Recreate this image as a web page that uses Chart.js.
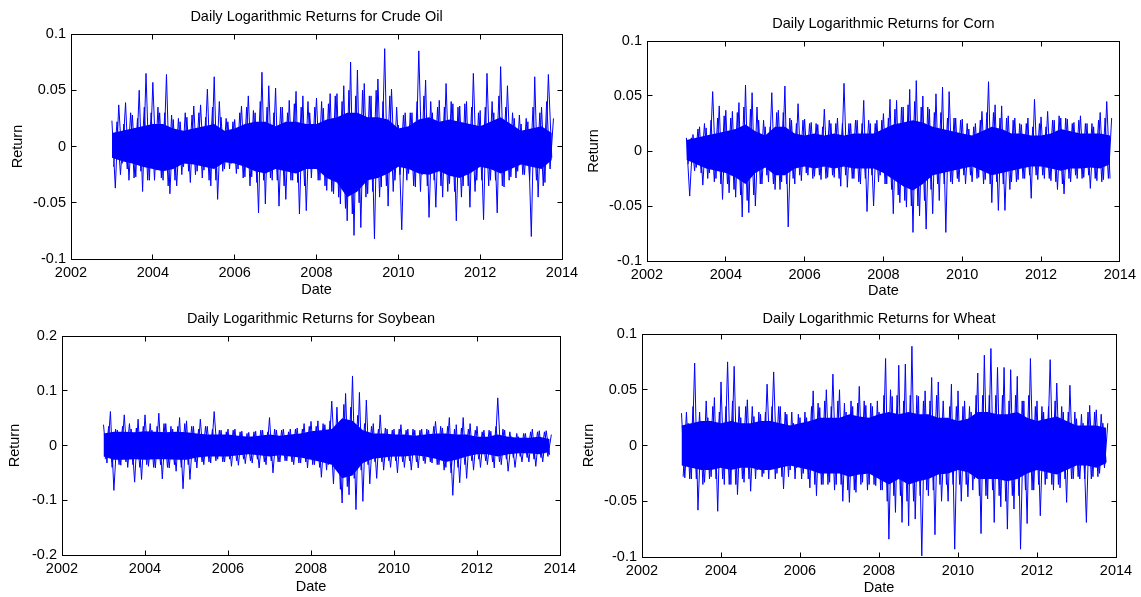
<!DOCTYPE html>
<html>
<head>
<meta charset="utf-8">
<title>Daily Logarithmic Returns</title>
<script src="https://cdn.jsdelivr.net/npm/chart.js@4.4.1/dist/chart.umd.min.js"></script>
<style>
  html, body { margin: 0; padding: 0; background: #fff; }
  #wrap { position: relative; width: 1141px; height: 597px; }
  #wrap canvas { position: absolute; left: 0; top: 0; }
</style>
</head>
<body>
<div id="wrap">
  <canvas id="oil" width="1141" height="597"></canvas>
  <canvas id="corn" width="1141" height="597"></canvas>
  <canvas id="soy" width="1141" height="597"></canvas>
  <canvas id="wheat" width="1141" height="597"></canvas>
</div>
<script>
Chart.defaults.font.family = '"Liberation Sans", Arial, Helvetica, sans-serif';
Chart.defaults.font.size = 14.5;
Chart.defaults.color = "#000";

const BLUE = "#0000ff";
const START = 2003;          // first trading day in the sample
const MONTH = 1 / 12;        // spacing of the high/low readings
const QUARTER = 1 / 4;       // spacing of the dense-core readings

const yearTicks = [2002, 2004, 2006, 2008, 2010, 2012, 2014];
const returnTicks = [-0.1, -0.05, 0, 0.05, 0.1];
const soyReturnTicks = [-0.2, -0.1, 0, 0.1, 0.2];

// alternating monthly high / low returns (largest spikes)
const crudeOil = [
  0.023,-0.037, 0.037,-0.015, 0.039,-0.03, 0.028,-0.027, 0.05,-0.04,
  0.065,-0.03, 0.057,-0.021, 0.03,-0.03, 0.064,-0.042, 0.024,-0.035,
  0.022,-0.018, 0.026,-0.032, 0.036,-0.022, 0.037,-0.021, 0.051,-0.035,
  0.062,-0.047, 0.026,-0.02, 0.022,-0.015, 0.024,-0.02, 0.036,-0.027,
  0.045,-0.027, 0.03,-0.059, 0.066,-0.051, 0.054,-0.03, 0.052,-0.053,
  0.035,-0.047, 0.041,-0.03, 0.049,-0.06, 0.045,-0.057, 0.03,-0.015,
  0.043,-0.03, 0.034,-0.039, 0.047,-0.042, 0.047,-0.051, 0.054,-0.066,
  0.075,-0.079, 0.068,-0.072, 0.056,-0.042, 0.045,-0.082, 0.06,-0.036,
  0.087,-0.053, 0.051,-0.03, 0.019,-0.074, 0.03,-0.024, 0.03,-0.036,
  0.085,-0.025, 0.059,-0.063, 0.03,-0.054, 0.041,-0.045, 0.056,-0.033,
  0.038,-0.066, 0.036,-0.035, 0.04,-0.054, 0.065,-0.03, 0.032,-0.065,
  0.065,-0.03, 0.03,-0.059, 0.071,-0.036, 0.054,-0.027, 0.025,-0.022,
  0.02,-0.025, 0.022,-0.08, 0.062,-0.045, 0.035,-0.032, 0.064,-0.01
];
const corn = [
  0.012,-0.041, 0.015,-0.015, 0.022,-0.031, 0.021,-0.02, 0.054,-0.025,
  0.041,-0.044, 0.037,-0.038, 0.036,-0.042, 0.044,-0.06, 0.06,-0.056,
  0.053,-0.05, 0.028,-0.03, 0.022,-0.028, 0.053,-0.035, 0.037,-0.028,
  0.059,-0.069, 0.028,-0.03, 0.043,-0.027, 0.029,-0.022, 0.026,-0.023,
  0.024,-0.026, 0.038,-0.024, 0.025,-0.024, 0.03,-0.032, 0.0615,-0.033,
  0.025,-0.025, 0.028,-0.03, 0.046,-0.055, 0.025,-0.05, 0.028,-0.022,
  0.034,-0.03, 0.047,-0.057, 0.046,-0.047, 0.04,-0.051, 0.056,-0.074,
  0.064,-0.059, 0.05,-0.071, 0.038,-0.057, 0.052,-0.045, 0.058,-0.074,
  0.054,-0.03, 0.03,-0.028, 0.029,-0.03, 0.02,-0.028, 0.025,-0.024,
  0.036,-0.026, 0.063,-0.047, 0.042,-0.054, 0.041,-0.054, 0.032,-0.028,
  0.03,-0.026, 0.024,-0.025, 0.03,-0.043, 0.047,-0.026, 0.031,-0.025,
  0.036,-0.027, 0.028,-0.035, 0.03,-0.039, 0.029,-0.028, 0.026,-0.025,
  0.032,-0.024, 0.025,-0.034, 0.022,-0.027, 0.035,-0.026, 0.045,-0.025
];
const soybean = [
  0.038,-0.032, 0.062,-0.082, 0.028,-0.036, 0.056,-0.04, 0.03,-0.067,
  0.048,-0.062, 0.056,-0.038, 0.028,-0.041, 0.059,-0.061, 0.04,-0.041,
  0.03,-0.047, 0.051,-0.079, 0.045,-0.062, 0.035,-0.041, 0.048,-0.035,
  0.035,-0.032, 0.062,-0.025, 0.028,-0.03, 0.03,-0.038, 0.03,-0.036,
  0.026,-0.033, 0.024,-0.032, 0.026,-0.041, 0.028,-0.035, 0.051,-0.05,
  0.028,-0.03, 0.03,-0.028, 0.03,-0.035, 0.032,-0.032, 0.04,-0.041,
  0.044,-0.035, 0.045,-0.058, 0.038,-0.035, 0.081,-0.038, 0.04,-0.105,
  0.095,-0.09, 0.127,-0.117, 0.097,-0.102, 0.083,-0.07, 0.04,-0.06,
  0.056,-0.045, 0.03,-0.04, 0.03,-0.05, 0.038,-0.04, 0.03,-0.045,
  0.028,-0.041, 0.03,-0.033, 0.028,-0.032, 0.044,-0.035, 0.032,-0.04,
  0.051,-0.091, 0.038,-0.068, 0.051,-0.06, 0.04,-0.045, 0.035,-0.04,
  0.028,-0.035, 0.026,-0.041, 0.087,-0.035, 0.028,-0.047, 0.016,-0.04,
  0.016,-0.03, 0.022,-0.03, 0.03,-0.038, 0.027,-0.03, 0.027,-0.017
];
const wheat = [
  0.029,-0.029, 0.02,-0.03, 0.074,-0.058, 0.02,-0.033, 0.025,-0.028,
  0.043,-0.059, 0.057,-0.035, 0.075,-0.035, 0.071,-0.044, 0.025,-0.033,
  0.041,-0.041, 0.026,-0.022, 0.028,-0.025, 0.055,-0.022, 0.066,-0.025,
  0.035,-0.039, 0.028,-0.022, 0.02,-0.02, 0.025,-0.025, 0.025,-0.038,
  0.049,-0.045, 0.034,-0.035, 0.05,-0.033, 0.064,-0.035, 0.05,-0.05,
  0.03,-0.051, 0.035,-0.042, 0.053,-0.033, 0.036,-0.035, 0.035,-0.036,
  0.03,-0.04, 0.078,-0.084, 0.044,-0.06, 0.072,-0.069, 0.073,-0.072,
  0.089,-0.066, 0.044,-0.099, 0.049,-0.045, 0.061,-0.08, 0.057,-0.05,
  0.02,-0.05, 0.055,-0.093, 0.049,-0.05, 0.04,-0.046, 0.03,-0.03,
  0.065,-0.079, 0.081,-0.048, 0.087,-0.069, 0.07,-0.055, 0.07,-0.075,
  0.068,-0.057, 0.062,-0.093, 0.04,-0.07, 0.078,-0.04, 0.04,-0.063,
  0.03,-0.03, 0.077,-0.04, 0.056,-0.038, 0.03,-0.051, 0.054,-0.03,
  0.024,-0.03, 0.02,-0.069, 0.036,-0.028, 0.032,-0.025, 0.02,-0.015
];

// alternating monthly low / high returns of the moderate spikes, half a month later
const crudeOilMid = [
  -0.018,0.022, -0.025,0.02, -0.02,0.03, -0.028,0.025, -0.022,0.035, -0.03,0.03,
  -0.03,0.035, -0.028,0.03, -0.035,0.028, -0.03,0.025, -0.025,0.03, -0.022,0.028,
  -0.025,0.03, -0.028,0.026, -0.03,0.035, -0.03,0.04, -0.022,0.025, -0.02,0.022,
  -0.024,0.03, -0.028,0.035, -0.035,0.032, -0.032,0.04, -0.03,0.035, -0.028,0.03,
  -0.03,0.035, -0.035,0.03, -0.03,0.038, -0.032,0.035, -0.035,0.04, -0.028,0.035,
  -0.03,0.04, -0.035,0.038, -0.04,0.045, -0.045,0.04, -0.055,0.05, -0.06,0.045,
  -0.05,0.05, -0.045,0.045, -0.04,0.05, -0.045,0.04, -0.035,0.045, -0.04,0.035,
  -0.025,0.028, -0.03,0.03, -0.035,0.04, -0.04,0.045, -0.035,0.04, -0.03,0.035,
  -0.035,0.035, -0.04,0.04, -0.04,0.035, -0.045,0.038, -0.035,0.035, -0.04,0.03,
  -0.03,0.035, -0.035,0.04, -0.03,0.045, -0.035,0.035, -0.03,0.03, -0.028,0.028,
  -0.025,0.025, -0.03,0.035, -0.03,0.03, -0.035,0.04, -0.02,0.025
];
const cornMid = [
  -0.012,0.012, -0.018,0.02, -0.02,0.025, -0.025,0.028, -0.028,0.03, -0.03,0.032,
  -0.03,0.03, -0.035,0.035, -0.04,0.04, -0.045,0.038, -0.04,0.04, -0.03,0.028,
  -0.022,0.022, -0.03,0.035, -0.035,0.035, -0.03,0.03, -0.025,0.025, -0.022,0.028,
  -0.02,0.025, -0.025,0.025, -0.022,0.022, -0.025,0.028, -0.022,0.025, -0.025,0.025,
  -0.022,0.025, -0.025,0.028, -0.028,0.025, -0.025,0.028, -0.022,0.025, -0.028,0.028,
  -0.03,0.03, -0.035,0.038, -0.04,0.04, -0.045,0.042, -0.05,0.045, -0.05,0.04,
  -0.045,0.04, -0.035,0.035, -0.03,0.035, -0.03,0.03, -0.028,0.03, -0.025,0.028,
  -0.022,0.025, -0.022,0.022, -0.025,0.028, -0.03,0.035, -0.03,0.035, -0.028,0.03,
  -0.03,0.03, -0.035,0.028, -0.028,0.025, -0.025,0.025, -0.022,0.022, -0.022,0.025,
  -0.022,0.022, -0.025,0.028, -0.028,0.032, -0.03,0.03, -0.025,0.025, -0.022,0.028,
  -0.025,0.025, -0.022,0.025, -0.025,0.028, -0.028,0.03, -0.025,0.03
];
const soybeanMid = [
  -0.025,0.035, -0.04,0.03, -0.035,0.035, -0.03,0.04, -0.035,0.032, -0.04,0.035,
  -0.035,0.04, -0.04,0.035, -0.035,0.04, -0.04,0.035, -0.035,0.035, -0.04,0.04,
  -0.035,0.035, -0.03,0.03, -0.03,0.035, -0.03,0.03, -0.028,0.028, -0.03,0.025,
  -0.025,0.028, -0.028,0.025, -0.025,0.022, -0.028,0.025, -0.025,0.028, -0.03,0.025,
  -0.028,0.03, -0.03,0.028, -0.028,0.025, -0.03,0.03, -0.032,0.03, -0.03,0.035,
  -0.035,0.035, -0.04,0.04, -0.045,0.045, -0.07,0.07, -0.08,0.075, -0.075,0.07,
  -0.06,0.055, -0.045,0.04, -0.035,0.035, -0.03,0.03, -0.03,0.032, -0.028,0.028,
  -0.028,0.03, -0.03,0.028, -0.028,0.03, -0.03,0.028, -0.028,0.03, -0.03,0.035,
  -0.035,0.035, -0.045,0.035, -0.05,0.03, -0.04,0.032, -0.035,0.03, -0.028,0.028,
  -0.025,0.025, -0.028,0.028, -0.03,0.035, -0.03,0.03, -0.025,0.025, -0.022,0.022,
  -0.02,0.022, -0.022,0.025, -0.025,0.025, -0.022,0.025, -0.02,0.02
];
const wheatMid = [
  -0.028,0.03, -0.03,0.035, -0.03,0.03, -0.035,0.04, -0.03,0.035, -0.03,0.03,
  -0.03,0.035, -0.035,0.04, -0.035,0.035, -0.03,0.035, -0.03,0.035, -0.03,0.03,
  -0.028,0.03, -0.03,0.035, -0.03,0.035, -0.028,0.03, -0.028,0.03, -0.03,0.028,
  -0.03,0.03, -0.03,0.035, -0.035,0.038, -0.035,0.04, -0.035,0.035, -0.04,0.04,
  -0.035,0.038, -0.04,0.04, -0.04,0.038, -0.035,0.04, -0.04,0.038, -0.035,0.04,
  -0.04,0.045, -0.05,0.05, -0.045,0.045, -0.045,0.04, -0.05,0.045, -0.05,0.045,
  -0.045,0.04, -0.04,0.04, -0.04,0.045, -0.035,0.04, -0.035,0.035, -0.035,0.035,
  -0.035,0.035, -0.035,0.035, -0.04,0.045, -0.045,0.045, -0.045,0.045, -0.04,0.045,
  -0.045,0.045, -0.05,0.04, -0.045,0.045, -0.045,0.04, -0.04,0.045, -0.04,0.035,
  -0.035,0.035, -0.035,0.035, -0.035,0.04, -0.035,0.035, -0.03,0.03, -0.03,0.03,
  -0.028,0.028, -0.03,0.03, -0.03,0.03, -0.028,0.028, -0.02,0.02
];

// quarterly upper / lower edge of the dense core of daily returns
const crudeOilCoreHi = [0.012,0.014,0.016,0.018,0.02,0.02,0.016,0.014,0.016,0.018,0.02,0.014,0.016,0.02,0.022,0.022,0.018,0.022,0.022,0.02,0.02,0.024,0.026,0.03,0.03,0.026,0.026,0.024,0.016,0.018,0.024,0.026,0.022,0.024,0.022,0.02,0.018,0.022,0.026,0.02,0.014,0.016,0.018,0.012];
const crudeOilCoreLo = [-0.01,-0.013,-0.015,-0.018,-0.02,-0.022,-0.02,-0.015,-0.016,-0.018,-0.02,-0.014,-0.015,-0.018,-0.022,-0.024,-0.02,-0.022,-0.024,-0.02,-0.02,-0.028,-0.032,-0.045,-0.04,-0.03,-0.028,-0.024,-0.018,-0.02,-0.024,-0.025,-0.022,-0.026,-0.028,-0.024,-0.018,-0.02,-0.024,-0.02,-0.016,-0.018,-0.02,-0.012];
const cornCoreHi = [0.01,0.012,0.014,0.016,0.018,0.02,0.024,0.018,0.014,0.022,0.022,0.016,0.014,0.016,0.014,0.016,0.014,0.016,0.016,0.016,0.02,0.024,0.026,0.028,0.026,0.022,0.02,0.018,0.016,0.014,0.018,0.022,0.02,0.016,0.016,0.014,0.014,0.016,0.02,0.018,0.016,0.016,0.016,0.014];
const cornCoreLo = [-0.008,-0.012,-0.016,-0.018,-0.02,-0.024,-0.03,-0.02,-0.015,-0.022,-0.022,-0.016,-0.014,-0.016,-0.014,-0.016,-0.014,-0.016,-0.016,-0.016,-0.02,-0.026,-0.032,-0.036,-0.03,-0.022,-0.02,-0.018,-0.016,-0.014,-0.018,-0.022,-0.02,-0.018,-0.016,-0.014,-0.014,-0.016,-0.018,-0.016,-0.016,-0.015,-0.016,-0.012];
const soybeanCoreHi = [0.022,0.025,0.025,0.024,0.026,0.025,0.024,0.025,0.024,0.022,0.02,0.02,0.02,0.018,0.016,0.018,0.02,0.018,0.02,0.022,0.026,0.028,0.03,0.05,0.045,0.028,0.022,0.022,0.02,0.02,0.018,0.02,0.022,0.022,0.02,0.02,0.016,0.016,0.02,0.016,0.014,0.014,0.016,0.012];
const soybeanCoreLo = [-0.02,-0.026,-0.026,-0.025,-0.026,-0.025,-0.025,-0.026,-0.026,-0.022,-0.02,-0.02,-0.02,-0.018,-0.016,-0.018,-0.02,-0.018,-0.02,-0.022,-0.026,-0.03,-0.035,-0.06,-0.055,-0.032,-0.024,-0.022,-0.02,-0.02,-0.018,-0.02,-0.024,-0.03,-0.026,-0.02,-0.016,-0.016,-0.02,-0.016,-0.014,-0.014,-0.016,-0.012];
const wheatCoreHi = [0.018,0.02,0.022,0.022,0.02,0.022,0.02,0.02,0.022,0.022,0.02,0.018,0.02,0.022,0.025,0.025,0.025,0.028,0.026,0.025,0.028,0.03,0.028,0.03,0.028,0.028,0.025,0.025,0.022,0.024,0.03,0.03,0.028,0.028,0.03,0.025,0.022,0.024,0.026,0.022,0.018,0.018,0.018,0.016];
const wheatCoreLo = [-0.018,-0.02,-0.022,-0.022,-0.02,-0.022,-0.02,-0.02,-0.022,-0.022,-0.02,-0.018,-0.02,-0.022,-0.025,-0.025,-0.025,-0.028,-0.026,-0.025,-0.03,-0.035,-0.03,-0.035,-0.032,-0.03,-0.026,-0.025,-0.022,-0.024,-0.03,-0.03,-0.03,-0.032,-0.03,-0.025,-0.022,-0.024,-0.026,-0.022,-0.018,-0.018,-0.02,-0.016];

const panels = [
  { id: "oil", title: "Daily Logarithmic Returns for Crude Oil", values: crudeOil, mid: crudeOilMid,
    hi: crudeOilCoreHi, lo: crudeOilCoreLo, yTicks: returnTicks,
    area: [71, 34, 562, 259], titleY: 17, dateY: 289.5, returnX: 17.5 },
  { id: "corn", title: "Daily Logarithmic Returns for Corn", values: corn, mid: cornMid,
    hi: cornCoreHi, lo: cornCoreLo, yTicks: returnTicks,
    area: [647, 41, 1122, 261], titleY: 24, dateY: 291, returnX: 594 },
  { id: "soy", title: "Daily Logarithmic Returns for Soybean", values: soybean, mid: soybeanMid,
    hi: soybeanCoreHi, lo: soybeanCoreLo, yTicks: soyReturnTicks,
    area: [62, 336, 560, 555], titleY: 318.7, dateY: 587, returnX: 14.5 },
  { id: "wheat", title: "Daily Logarithmic Returns for Wheat", values: wheat, mid: wheatMid,
    hi: wheatCoreHi, lo: wheatCoreLo, yTicks: returnTicks,
    area: [642, 334, 1116, 557], titleY: 318.7, dateY: 587.5, returnX: 589 }
];

function toPoints(values, step, offset = 0) {
  return values.map((v, i) => ({ x: START + offset + i * step, y: v }));
}

// matlab style box with inward ticks on all four sides
const boxPlugin = {
  id: "box",
  afterDraw(chart) {
    const { ctx, chartArea: a, scales: { x, y } } = chart;
    const l = Math.floor(a.left) + 0.5, r = Math.floor(a.right) + 0.5;
    const t = Math.floor(a.top) + 0.5, b = Math.floor(a.bottom) + 0.5;
    ctx.save();
    ctx.strokeStyle = "#000";
    ctx.lineWidth = 1;
    ctx.strokeRect(l, t, r - l, b - t);
    ctx.beginPath();
    x.ticks.forEach(tk => {
      const px = Math.floor(x.getPixelForValue(tk.value)) + 0.5;
      ctx.moveTo(px, t); ctx.lineTo(px, t + 5);
      ctx.moveTo(px, b); ctx.lineTo(px, b - 5);
    });
    y.ticks.forEach(tk => {
      const py = Math.floor(y.getPixelForValue(tk.value)) + 0.5;
      ctx.moveTo(l, py); ctx.lineTo(l + 5, py);
      ctx.moveTo(r, py); ctx.lineTo(r - 5, py);
    });
    ctx.stroke();
    ctx.restore();
  }
};

function makeChart(p) {
  const [L, T, R, B] = p.area;
  const half = Chart.defaults.font.size * 1.2 / 2;
  const yW = L - p.returnX + half;
  const topH = T - p.titleY + half;
  const botH = p.dateY - B + half;
  const ctx = document.getElementById(p.id).getContext("2d");
  return new Chart(ctx, {
    type: "line",
    data: {
      datasets: [
        { data: toPoints(p.hi, QUARTER), borderColor: "rgba(0,0,0,0)", borderWidth: 0,
          pointRadius: 0, backgroundColor: BLUE, fill: "+1" },
        { data: toPoints(p.lo, QUARTER), borderColor: "rgba(0,0,0,0)", borderWidth: 0,
          pointRadius: 0, fill: false },
        { data: toPoints(p.mid, MONTH, MONTH / 2), borderColor: BLUE, borderWidth: 1,
          pointRadius: 0, fill: false },
        { data: toPoints(p.values, MONTH), borderColor: BLUE, borderWidth: 1,
          pointRadius: 0, fill: false }
      ]
    },
    options: {
      responsive: false,
      animation: false,
      events: [],
      layout: { padding: { left: L - yW, top: T - topH, right: 1141 - R, bottom: 597 - B - botH } },
      plugins: { legend: { display: false }, tooltip: { enabled: false } },
      scales: {
        x: {
          type: "linear", min: 2002, max: 2014,
          grid: { display: false, drawTicks: false }, border: { display: false },
          afterBuildTicks: s => { s.ticks = yearTicks.map(v => ({ value: v })); },
          afterFit: s => { s.height = botH; },
          ticks: { padding: 5, maxRotation: 0, autoSkip: false, callback: v => String(v) },
          title: { display: true, text: "Date", padding: 0 }
        },
        x2: {
          type: "linear", position: "top",
          grid: { display: false, drawTicks: false }, border: { display: false },
          ticks: { display: false },
          afterFit: s => { s.height = topH; },
          title: { display: true, text: p.title, padding: 0 }
        },
        y: {
          min: p.yTicks[0], max: p.yTicks[p.yTicks.length - 1],
          grid: { display: false, drawTicks: false }, border: { display: false },
          afterBuildTicks: s => { s.ticks = p.yTicks.map(v => ({ value: v })); },
          afterFit: s => { s.width = yW; },
          ticks: { padding: 5, callback: v => String(+v.toFixed(3)) },
          title: { display: true, text: "Return", padding: 0 }
        }
      }
    },
    plugins: [boxPlugin]
  });
}

panels.forEach(makeChart);
</script>
</body>
</html>
